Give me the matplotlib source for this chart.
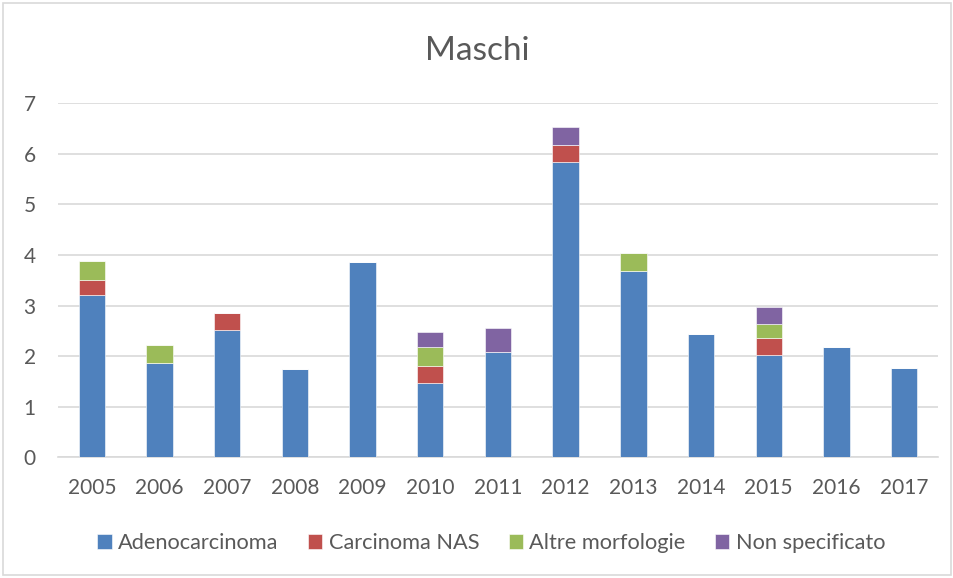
import matplotlib.pyplot as plt
from matplotlib.patches import Rectangle
import numpy as np

plt.rcParams['font.family'] = ['Lato', 'DejaVu Sans']

years = ['2005', '2006', '2007', '2008', '2009', '2010', '2011',
         '2012', '2013', '2014', '2015', '2016', '2017']
adeno = [3.20, 1.87, 2.51, 1.74, 3.86, 1.48, 2.08, 5.83, 3.69, 2.43, 2.03, 2.18, 1.76]
carc_nas = [0.30, 0.00, 0.35, 0.00, 0.00, 0.33, 0.00, 0.35, 0.00, 0.00, 0.33, 0.00, 0.00]
altre = [0.38, 0.36, 0.00, 0.00, 0.00, 0.37, 0.00, 0.00, 0.34, 0.00, 0.28, 0.00, 0.00]
non_spec = [0.00, 0.00, 0.00, 0.00, 0.00, 0.30, 0.47, 0.34, 0.00, 0.00, 0.34, 0.00, 0.00]

series = [
    ('Adenocarcinoma', adeno, '#4F81BD'),
    ('Carcinoma NAS', carc_nas, '#C0504D'),
    ('Altre morfologie', altre, '#9BBB59'),
    ('Non specificato', non_spec, '#8064A2'),
]

text_col = '#595959'
grid_col = '#D9D9D9'

fig = plt.figure(figsize=(9.54, 5.78), dpi=100)
ax = fig.add_axes([0.0608, 0.2085, 0.9224, 0.6133])

x = np.arange(len(years))
bottom = np.zeros(len(years))
for name, vals, col in series:
    vals = np.array(vals)
    ax.bar(x, vals, width=0.39, bottom=bottom, color=col, label=name,
           edgecolor='white', linewidth=0.4, zorder=3)
    bottom += vals

ax.set_xlim(-0.5, len(years) - 0.5)
ax.set_ylim(0, 7)
ax.set_yticks(range(8))
ax.set_xticks(x)
ax.set_xticklabels(years)
ax.yaxis.grid(True, color=grid_col, linewidth=1.2, zorder=0)
ax.tick_params(axis='both', length=0, labelsize=15, colors=text_col)
ax.tick_params(axis='y', pad=16)
ax.tick_params(axis='x', pad=15)
for s in ['top', 'right', 'left']:
    ax.spines[s].set_visible(False)
ax.spines['bottom'].set_color(grid_col)
ax.spines['bottom'].set_linewidth(1.2)

fig.text(0.5, 1 - 60 / 578, 'Maschi', ha='center', va='baseline',
         fontsize=24, color=text_col)

fig.legend(loc='center', bbox_to_anchor=(0.515, 1 - 543 / 578), ncol=4,
           frameon=False, fontsize=15.7, handlelength=0.65, handleheight=0.65,
           handletextpad=0.3, columnspacing=1.35, labelcolor=text_col)

fig.patches.append(Rectangle((3 / 954, 3 / 578), 948 / 954, 572 / 578,
                             transform=fig.transFigure, fill=False,
                             edgecolor=grid_col, linewidth=1.2))

fig.savefig('out.png', dpi=100)
